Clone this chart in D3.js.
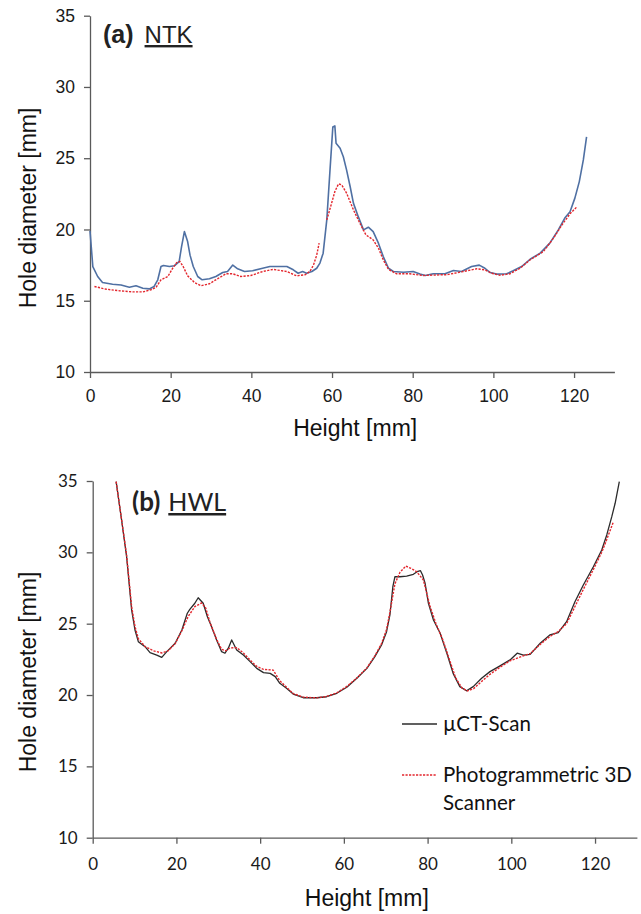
<!DOCTYPE html>
<html>
<head>
<meta charset="utf-8">
<script src="https://cdn.jsdelivr.net/npm/d3@7"></script>
<style>
  body { margin: 0; background: #fff; }
  svg { display: block; }
</style>
</head>
<body>
<svg id="chart" width="641" height="914"></svg>
<script>
// (a) NTK - µCT scan
var ntkCtHeight = [0, 0.7, 1.9, 3.1, 5.6, 7.7, 9.75, 11.4, 13.1, 14.7, 15.9, 16.8, 17.6, 18.2, 19.7, 20.9, 22.1, 22.7, 23.4, 24.2, 24.8, 25.6, 26.7, 27.8, 29.6, 31.2, 32.9, 34.1, 35.4, 36.6, 38.3, 40.3, 42.8, 44.6, 48.8, 50.4, 51.6, 52.7, 53.7, 55.0, 56.2, 57.0, 57.8, 58.7, 59.5, 60.2, 60.7, 61.0, 62.0, 62.8, 63.6, 64.5, 65.3, 66.5, 67.8, 69.0, 70.2, 71.5, 72.7, 74.0, 75.2, 77.7, 80.1, 81.8, 83.1, 85.1, 88.0, 90.1, 92.1, 94.6, 96.5, 97.9, 99.2, 100.8, 103.3, 104.9, 107, 109.1, 111.6, 114, 116.1, 117.7, 119, 120.2, 121.3, 122.3, 123.1];
var ntkCtDiam = [19.9, 17.4, 16.7, 16.28, 16.16, 16.1, 15.95, 16.05, 15.88, 15.83, 16.0, 16.47, 17.4, 17.47, 17.4, 17.45, 17.75, 18.8, 19.85, 19.15, 18.2, 17.4, 16.7, 16.47, 16.54, 16.7, 16.98, 17.05, 17.5, 17.24, 17.05, 17.1, 17.28, 17.4, 17.4, 17.17, 16.93, 17.05, 16.93, 17.05, 17.28, 17.64, 18.34, 20.67, 24.18, 27.2, 27.27, 26.05, 25.7, 25.1, 24.18, 23.0, 21.85, 20.9, 19.97, 20.16, 19.85, 19.04, 18.1, 17.28, 17.05, 17.0, 17.05, 16.87, 16.77, 16.89, 16.89, 17.12, 17.05, 17.4, 17.5, 17.28, 16.98, 16.87, 16.89, 17.1, 17.4, 17.91, 18.34, 19.04, 19.97, 20.8, 21.25, 22.2, 23.36, 24.88, 26.5];

// (a) NTK - photogrammetric scanner (null = gap in the trace)
var ntkPhHeight = [1.1, 4, 7.3, 10.6, 13.1, 15.1, 16.4, 17.6, 19.3, 20.5, 21.5, 22.3, 23.1, 24.2, 25.9, 27.5, 29.6, 31.6, 33.7, 35.4, 37.4, 39.9, 42.8, 45.4, 48.8, 51.2, 53.3, 54.5, 55.4, 56.2, 56.8, 57.7, 58.7, 59.9, 60.7, 61.6, 62.4, 63.6, 65.3, 66.9, 68.4, 70.2, 71.5, 72.7, 74, 76, 79.3, 82.6, 86.8, 88.4, 92.5, 95.9, 97.9, 99.6, 101.6, 104.1, 106.6, 109.1, 112.4, 114.9, 117, 119, 120.6];
var ntkPhDiam = [16.0, 15.81, 15.7, 15.62, 15.62, 15.77, 15.95, 16.47, 16.7, 17.28, 17.68, 17.75, 17.4, 16.75, 16.28, 16.05, 16.19, 16.54, 16.89, 16.89, 16.7, 16.77, 17.05, 17.2, 17.05, 16.75, 16.82, 17.05, 17.5, 18.2, 19.04, null, 20.67, 21.85, 22.66, 23.2, 23.13, 22.55, 21.38, 20.44, 19.62, 19.27, 18.69, 17.87, 17.2, 16.89, 16.89, 16.77, 16.82, 16.82, 17.05, 17.24, 17.17, 16.93, 16.79, 16.89, 17.28, 17.87, 18.45, 19.39, 20.32, 21.1, 21.56];

// (b) HWL - µCT scan
var hwlCtHeight = [5.6, 6.9, 8.1, 9.3, 10.1, 10.9, 12.5, 13.7, 15.3, 16.5, 17.7, 19.7, 21.3, 22.6, 23.2, 24.4, 25.2, 26.4, 27.4, 28.4, 29.6, 30.8, 31.6, 32.4, 33.2, 34.4, 36.0, 37.6, 39.2, 40.8, 42.4, 43.6, 44.7, 46.3, 47.9, 50.3, 53.5, 55.9, 58.3, 60.7, 63.1, 65.5, 67.4, 69, 70.2, 71, 71.7, 72.2, 73.4, 75, 76.6, 77.5, 78.3, 78.8, 79.4, 80.2, 81.4, 83, 84.6, 86.1, 87.7, 89.3, 90.9, 92.9, 94.9, 97.3, 99.7, 101.4, 102.9, 104.5, 106.9, 109.2, 111.2, 113.2, 115.2, 117.2, 119.6, 121.6, 122.8, 124, 124.8, 125.8];
var hwlCtDiam = [34.95, 32.27, 29.7, 25.96, 24.56, 23.74, 23.39, 22.97, 22.8, 22.64, 23.04, 23.63, 24.56, 25.73, 26.0, 26.43, 26.82, 26.43, 25.49, 24.79, 23.86, 23.04, 22.93, 23.28, 23.86, 23.16, 22.8, 22.34, 21.87, 21.57, 21.52, 21.29, 20.82, 20.47, 20.07, 19.81, 19.81, 19.88, 20.12, 20.54, 21.17, 21.87, 22.69, 23.51, 24.44, 25.61, 27.59, 28.29, 28.29, 28.34, 28.46, 28.64, 28.71, 28.41, 27.83, 26.43, 25.26, 24.33, 22.93, 21.52, 20.59, 20.3, 20.59, 21.17, 21.64, 22.04, 22.46, 22.93, 22.8, 22.85, 23.63, 24.21, 24.37, 25.14, 26.54, 27.71, 28.99, 30.16, 31.22, 32.5, 33.44, 34.95];

// (b) HWL - photogrammetric scanner
var hwlPhHeight = [5.6, 6.9, 8.1, 9.3, 10.1, 10.9, 12.5, 14.5, 16.5, 18.0, 19.7, 21.3, 22.8, 24.4, 26.0, 27.0, 28.0, 29.6, 30.8, 31.8, 32.8, 34.4, 36.0, 37.6, 39.2, 40.8, 43.1, 44.7, 46.3, 47.9, 50.3, 53.5, 55.9, 58.3, 60.7, 63.1, 65.5, 67.4, 69, 70.2, 71, 72.2, 73.4, 74.8, 76.2, 77.4, 79, 80.6, 82.0, 83.6, 85.2, 86.7, 88.2, 89.5, 91.0, 92.9, 94.9, 97.3, 99.7, 102.9, 104.5, 106.9, 109.2, 111.2, 113.2, 115.2, 117.2, 119.6, 121.6, 122.8, 124.4];
var hwlPhDiam = [34.95, 32.3, 29.8, 26.2, 24.8, 23.95, 23.4, 23.1, 22.95, 23.1, 23.6, 24.5, 25.5, 26.2, 26.45, 26.1, 25.1, 23.9, 23.2, 23.1, 23.3, 23.32, 22.95, 22.45, 22.0, 21.8, 21.75, 21.0, 20.55, 20.1, 19.85, 19.8, 19.9, 20.15, 20.6, 21.2, 21.9, 22.75, 23.6, 24.6, 25.8, 27.8, 28.6, 29.04, 28.85, 28.64, 28.06, 26.2, 25.0, 23.9, 22.5, 21.2, 20.5, 20.28, 20.45, 20.95, 21.45, 21.95, 22.4, 22.75, 22.9, 23.55, 24.1, 24.45, 25.0, 26.2, 27.4, 28.8, 30.0, 30.9, 32.15];

var xTicks = [0, 20, 40, 60, 80, 100, 120];
var yTicks = [10, 15, 20, 25, 30, 35];
var legendLabels = ["\u00b5CT-Scan", "Photogrammetric 3D", "Scanner"];

var svg = d3.select("#chart");

function zip(hs, ds) {
  return hs.map(function (h, i) { return { h: h, d: ds[i] }; });
}

// draw one panel
function panel(opt) {
  var x = d3.scaleLinear().domain([0, 130]).range([opt.left, opt.right]);
  var y = d3.scaleLinear().domain([10, 35]).range([opt.bottom, opt.top]);
  var g = svg.append("g");

  var xAxis = g.append("g")
      .attr("transform", "translate(0," + opt.bottom + ")")
      .call(d3.axisBottom(x).tickValues(xTicks).tickSizeInner(6).tickSizeOuter(0).tickPadding(opt.xPad));
  var yAxis = g.append("g")
      .attr("transform", "translate(" + opt.left + ",0)")
      .call(d3.axisLeft(y).tickValues(yTicks).tickSizeInner(6).tickSizeOuter(0).tickPadding(9));

  [xAxis, yAxis].forEach(function (a) {
    a.select(".domain").attr("stroke", "#5a5a5a").attr("stroke-width", 1.3);
    a.selectAll(".tick line").attr("stroke", "#5a5a5a").attr("stroke-width", 1.3);
    a.selectAll(".tick text")
      .attr("font-family", opt.tickFont)
      .attr("font-size", opt.tickSize)
      .attr("fill", "#1a1a1a");
  });

  var line = d3.line()
      .defined(function (p) { return p.d != null; })
      .x(function (p) { return x(p.h); })
      .y(function (p) { return y(p.d); });

  g.append("path")
      .datum(zip(opt.ctH, opt.ctD))
      .attr("fill", "none")
      .attr("stroke", opt.ctColor)
      .attr("stroke-width", opt.ctWidth)
      .attr("stroke-linejoin", "round")
      .attr("d", line);

  g.append("path")
      .datum(zip(opt.phH, opt.phD))
      .attr("fill", "none")
      .attr("stroke", "#e3262d")
      .attr("stroke-width", 1.4)
      .attr("stroke-dasharray", "2.2,1.3")
      .attr("d", line);

  // axis titles
  g.append("text")
      .attr("x", (opt.left + x(130)) / 2 + opt.xTitleShift)
      .attr("y", opt.xTitleY)
      .attr("text-anchor", "middle")
      .attr("font-family", "Liberation Sans, Arial, sans-serif")
      .attr("font-size", 23)
      .attr("fill", "#111")
      .text("Height [mm]");

  g.append("text")
      .attr("transform", "translate(36," + opt.yTitleY + ") rotate(-90)")
      .attr("text-anchor", "middle")
      .attr("font-family", "Liberation Sans, Arial, sans-serif")
      .attr("font-size", 23)
      .attr("fill", "#111")
      .text("Hole diameter [mm]");

  // panel label
  var lab = g.append("text")
      .attr("x", opt.labelX)
      .attr("y", opt.labelY)
      .attr("font-family", opt.labelFont)
      .attr("font-size", opt.labelSize)
      .attr("fill", "#222");
  lab.append("tspan").attr("font-weight", "bold").text(opt.labelA);
  lab.append("tspan").attr("dx", opt.labelGap).attr("font-size", opt.labelSize - 1)
      .attr("text-decoration", "underline").text(opt.labelB);

  return { x: x, y: y, g: g };
}

var top = panel({
  left: 90, right: 614.4, top: 15.7, bottom: 372,
  xPad: 12, tickFont: "Liberation Sans, Arial, sans-serif", tickSize: 17.5,
  ctH: ntkCtHeight, ctD: ntkCtDiam, ctColor: "#4f70a3", ctWidth: 1.6,
  phH: ntkPhHeight, phD: ntkPhDiam,
  xTitleY: 436, xTitleShift: 3, yTitleY: 208,
  labelX: 103, labelY: 43, labelFont: "Liberation Sans, Arial, sans-serif", labelSize: 25, labelGap: 11,
  labelA: "(a)", labelB: "NTK"
});

var bot = panel({
  left: 92.7, right: 636.9, top: 481, bottom: 837.7,
  xPad: 14, tickFont: "Lato, sans-serif", tickSize: 17,
  ctH: hwlCtHeight, ctD: hwlCtDiam, ctColor: "#2b2b2b", ctWidth: 1.3,
  phH: hwlPhHeight, phD: hwlPhDiam,
  xTitleY: 906, xTitleShift: 2, yTitleY: 672,
  labelX: 132, labelY: 511, labelFont: "Lato, sans-serif", labelSize: 26, labelGap: 8,
  labelA: "(b)", labelB: "HWL"
});

// legend (panel b)
var legend = svg.append("g").attr("font-family", "Lato, sans-serif").attr("font-size", 20.5).attr("fill", "#111");
legend.append("line").attr("x1", 402).attr("x2", 437).attr("y1", 724).attr("y2", 724)
    .attr("stroke", "#2b2b2b").attr("stroke-width", 1.3);
legend.append("text").attr("x", 443).attr("y", 731).text(legendLabels[0]);
legend.append("line").attr("x1", 402).attr("x2", 437).attr("y1", 775).attr("y2", 775)
    .attr("stroke", "#e3262d").attr("stroke-width", 1.4).attr("stroke-dasharray", "2.2,1.3");
legend.append("text").attr("x", 443).attr("y", 782).text(legendLabels[1]);
legend.append("text").attr("x", 443).attr("y", 810).text(legendLabels[2]);
</script>
</body>
</html>
